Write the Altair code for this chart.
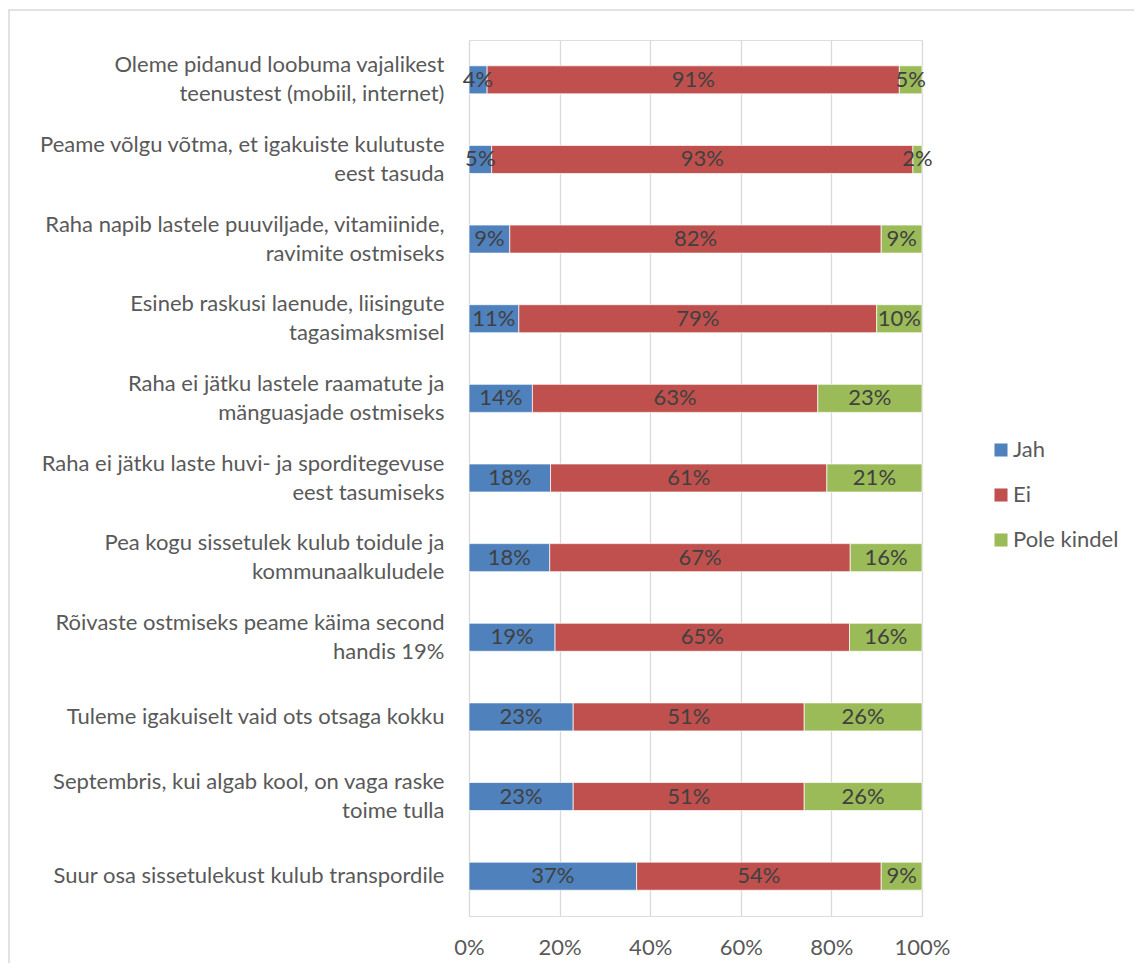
import altair as alt
import pandas as pd

categories = [
    "Oleme pidanud loobuma vajalikest\nteenustest (mobiil, internet)",
    "Peame võlgu võtma, et igakuiste kulutuste\neest tasuda",
    "Raha napib lastele puuviljade, vitamiinide,\nravimite ostmiseks",
    "Esineb raskusi laenude, liisingute\ntagasimaksmisel",
    "Raha ei jätku lastele raamatute ja\nmänguasjade ostmiseks",
    "Raha ei jätku laste huvi- ja sporditegevuse\neest tasumiseks",
    "Pea kogu sissetulek kulub toidule ja\nkommunaalkuludele",
    "Rõivaste ostmiseks peame käima second\nhandis 19%",
    "Tuleme igakuiselt vaid ots otsaga kokku",
    "Septembris, kui algab kool, on vaga raske\ntoime tulla",
    "Suur osa sissetulekust kulub transpordile",
]
jah = [4, 5, 9, 11, 14, 18, 18, 19, 23, 23, 37]
ei = [91, 93, 82, 79, 63, 61, 67, 65, 51, 51, 54]
pole = [5, 2, 9, 10, 23, 21, 16, 16, 26, 26, 9]
series = ["Jah", "Ei", "Pole kindel"]
colors = ["#4F81BD", "#C0504D", "#9BBB59"]
x_ticks = [0, 0.2, 0.4, 0.6, 0.8, 1.0]

rows = []
for i, c in enumerate(categories):
    for j, (s, vals) in enumerate(zip(series, [jah, ei, pole])):
        rows.append({"cat": c, "series": s, "order": j, "value": vals[i],
                     "label": f"{vals[i]}%"})
df = pd.DataFrame(rows)

FONT = "Lato"
FS = 22

y_enc = alt.Y(
    "cat:N", sort=categories,
    scale=alt.Scale(paddingInner=0.648, paddingOuter=0.324),
    axis=alt.Axis(title=None, labelExpr="split(datum.label, '\\n')",
                  labelFontSize=FS, labelColor="#595959", labelLineHeight=29,
                  labelPadding=25, labelLimit=600, domain=False, ticks=False,
                  grid=False, labelFont=FONT,
                  labelOffset=alt.condition("indexof(datum.label, '\\n') >= 0",
                                            alt.value(-14.5), alt.value(0))),
)

base = alt.Chart(df)

bars = base.mark_bar(stroke="white", strokeWidth=0.7).encode(
    x=alt.X("value:Q", stack="normalize",
            scale=alt.Scale(domain=[0, 1]),
            axis=alt.Axis(title=None, format="%", values=x_ticks, grid=True,
                          gridColor="#d9d9d9", gridWidth=1.3, domain=False,
                          ticks=False, labelFontSize=FS, labelColor="#595959",
                          labelPadding=21, labelFont=FONT, labelFlush=False)),
    y=y_enc,
    color=alt.Color("series:N", sort=series,
                    scale=alt.Scale(domain=series, range=colors),
                    legend=alt.Legend(title=None, orient="none", legendX=521,
                                      legendY=399, symbolType="square",
                                      symbolSize=170, symbolStrokeWidth=0,
                                      labelFontSize=FS, labelColor="#595959",
                                      labelFont=FONT, rowPadding=23,
                                      labelOffset=1)),
    order=alt.Order("order:Q"),
)

texts = base.transform_stack(
    stack="value", groupby=["cat"], sort=[alt.SortField("order")],
    offset="normalize", as_=["v0", "v1"],
).transform_calculate(
    mid="(datum.v0 + datum.v1) / 2"
).mark_text(fontSize=FS, color="#404040", font=FONT).encode(
    x=alt.X("mid:Q"),
    y=y_enc,
    text="label:N",
)

frame = alt.Chart(alt.Data(values=[{}])).mark_rect(
    filled=False, stroke="#d9d9d9", strokeWidth=1.5
).encode(
    x=alt.value(-460), x2=alt.value(700), y=alt.value(-30), y2=alt.value(1000)
)

chart = alt.layer(frame, bars, texts).properties(
    width=453, height=876,
    autosize=alt.AutoSizeParams(type="none"),
    padding={"left": 461, "top": 32, "right": 212, "bottom": 47},
).configure_view(stroke=None).configure(font=FONT)

chart.save("out.html", embed_options={"renderer": "svg", "actions": False})
